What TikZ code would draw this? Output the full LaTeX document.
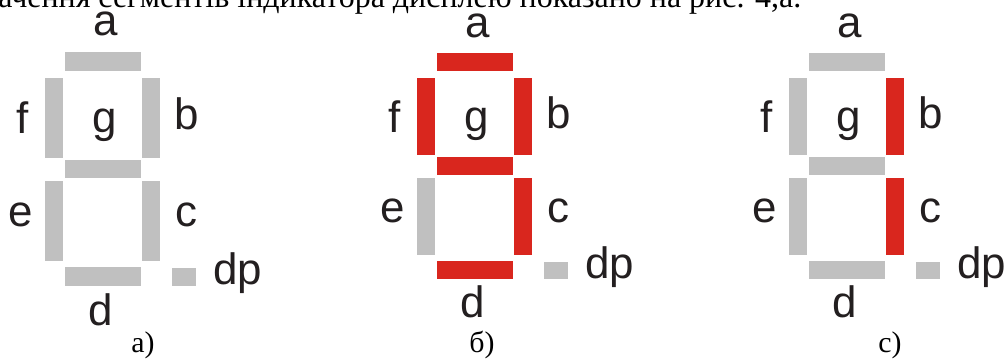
\documentclass[tikz,border=0pt]{standalone}
\usepackage{fontspec}
\setmainfont{Liberation Serif}
\newfontfamily\segfont{Liberation Sans}
\usepackage{tikz}
\usetikzlibrary{positioning}
\definecolor{segoff}{RGB}{192,192,192}
\definecolor{segon}{RGB}{217,38,30}
\definecolor{txtdark}{RGB}{35,31,32}

\tikzset{
  seglabel/.style={font=\segfont\fontsize{25}{25}\selectfont, text=txtdark, inner sep=0pt, anchor=base},
  caption/.style={font=\fontsize{17}{17}\selectfont, inner sep=0pt, anchor=base}
}

% un indicateur : #1 prefixe, #2..#9 couleurs de a b c d e f g dp
\newcommand{\sevenseg}[9]{
  \fill[#2] (20,53) rectangle (96,71);
  \fill[#3] (97,78) rectangle (115,155);
  \fill[#4] (97,178) rectangle (115,255);
  \fill[#5] (20,261) rectangle (96,279);
  \fill[#6] (0,178) rectangle (18,255);
  \fill[#7] (0,78) rectangle (18,155);
  \fill[#8] (20,157) rectangle (96,175);
  \fill[#9] (127,262) rectangle (151,279);
  \node[seglabel] (#1a) at (61,37) {a};
  \node[seglabel] (#1b) at (142,128) {b};
  \node[seglabel] (#1c) at (141,222) {c};
  \node[seglabel] (#1d) at (56,317) {d};
  \node[seglabel] (#1e) at (-24,222) {e};
  \node[seglabel] (#1f) at (-22,132) {f};
  \node[seglabel] (#1g) at (60,131) {g};
  \node[seglabel, anchor=base west] (#1dp) at (168,278) {dp};
}

\begin{document}
\begin{tikzpicture}[x=0.02cm, y=-0.02cm]
        \useasboundingbox (0,0) rectangle (1004,360);
        \clip (0,0) rectangle (1004,360);
        % ligne du texte coupee en haut
        \node[caption, font=\fontsize{18.2}{18}\selectfont, anchor=base west] (toptext) at (-2,7) {ачення сегментів індикатора дисплею показано на рис. 4,а.};
        % a) tous eteints
        \begin{scope}[shift={(45,-2.9)}, yscale=1.035]
            \sevenseg{pa}{segoff}{segoff}{segoff}{segoff}{segoff}{segoff}{segoff}{segoff}
        \end{scope}
        % b) chiffre 8 sans e
        \begin{scope}[shift={(417,0)}]
            \sevenseg{pb}{segon}{segon}{segon}{segon}{segoff}{segon}{segon}{segoff}
        \end{scope}
        % c) chiffre 1
        \begin{scope}[shift={(789,0)}]
            \sevenseg{pc}{segoff}{segon}{segon}{segoff}{segoff}{segoff}{segoff}{segoff}
        \end{scope}
        \node[caption] (capa) at (143,352) {а)};
        \node[caption] (capb) at (482,352) {б)};
        \node[caption] (capc) at (890,352) {с)};
    \end{tikzpicture}
\end{document}
